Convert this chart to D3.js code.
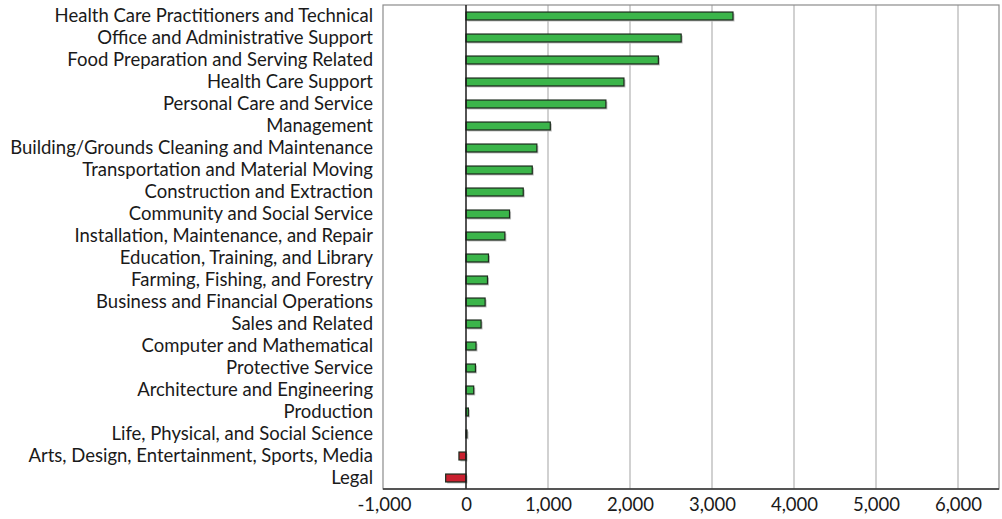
<!DOCTYPE html>
<html><head><meta charset="utf-8">
<script src="https://cdn.jsdelivr.net/npm/d3@7"></script>
<style>body{margin:0;background:#fff}svg{display:block}</style>
</head><body><svg id="c" width="1002" height="519"></svg>
<script>
const categories = ["Health Care Practitioners and Technical","Office and Administrative Support","Food Preparation and Serving Related","Health Care Support","Personal Care and Service","Management","Building/Grounds Cleaning and Maintenance","Transportation and Material Moving","Construction and Extraction","Community and Social Service","Installation, Maintenance, and Repair","Education, Training, and Library","Farming, Fishing, and Forestry","Business and Financial Operations","Sales and Related","Computer and Mathematical","Protective Service","Architecture and Engineering","Production","Life, Physical, and Social Science","Arts, Design, Entertainment, Sports, Media","Legal"];
const values = [3256,2624,2346,1926,1706,1028,864,808,698,531,474,274,262,233,184,122,115,94,29,12,-86,-248];
const tickValues = [-1000,0,1000,2000,3000,4000,5000,6000];

const svg = d3.select("#c");
const L=384, R=999, T=5, B=489;
const x = d3.scaleLinear().domain([-1000,6500]).range([L,R]);
const y = d3.scaleBand().domain(categories).range([T,B]).paddingInner(0.64).paddingOuter(0.32);
const font = "Lato, 'Open Sans', sans-serif";

// gridlines
svg.append("g").selectAll("line").data(tickValues.filter(v=>v>-1000 && v!==0)).join("line")
  .attr("x1",d=>x(d)).attr("x2",d=>x(d)).attr("y1",T).attr("y2",B)
  .attr("stroke","#b3b3b3").attr("stroke-width",1.2);
// frame
svg.append("rect").attr("x",L-1).attr("y",T).attr("width",R-L+1).attr("height",B-T)
  .attr("fill","none").attr("stroke","#8c8c8c").attr("stroke-width",1.2);

// shadows
svg.append("g").selectAll("rect").data(values).join("rect")
  .attr("x",d=>Math.min(x(0),x(d))+1.5).attr("y",(d,i)=>y(categories[i])+1.5)
  .attr("width",d=>Math.abs(x(d)-x(0))).attr("height",y.bandwidth())
  .attr("fill","#bdbdbd");
// bars
svg.append("g").selectAll("rect").data(values).join("rect")
  .attr("x",d=>Math.min(x(0),x(d))).attr("y",(d,i)=>y(categories[i]))
  .attr("width",d=>Math.abs(x(d)-x(0))).attr("height",y.bandwidth())
  .attr("fill",d=>d>=0?"#3bb54a":"#c9202f")
  .attr("stroke","#1c2a1c").attr("stroke-width",1.2);

// zero line
svg.append("line").attr("x1",x(0)).attr("x2",x(0)).attr("y1",T).attr("y2",B)
  .attr("stroke","#1a1a1a").attr("stroke-width",1.5);
// bottom axis line
svg.append("line").attr("x1",L-1).attr("x2",R).attr("y1",B).attr("y2",B)
  .attr("stroke","#333").attr("stroke-width",1.5);

// x tick labels
const xa = svg.append("g").attr("transform",`translate(0,${B})`)
  .call(d3.axisBottom(x).tickValues(tickValues).tickSize(0).tickPadding(9)
    .tickFormat(d=>d3.format(",")(d).replace("−","-")));
xa.select(".domain").remove();
xa.selectAll("text").attr("font-family",font).attr("font-size",16.5).attr("fill","#1a1a1a");

// y labels
const ya = svg.append("g").attr("transform",`translate(${L-11},0)`)
  .call(d3.axisLeft(y).tickSize(0).tickPadding(0));
ya.select(".domain").remove();
ya.selectAll("text").attr("font-family",font).attr("font-size",16.5).attr("fill","#1a1a1a");

// fit font to reference width of the widest label
const widest = ya.selectAll("text").filter(d=>d===categories[6]).node();
const w = widest.getComputedTextLength();
const fs = 16.5*363/w;
ya.selectAll("text").attr("font-size",fs);
xa.selectAll("text").attr("font-size",Math.max(fs,15.5));
</script></body></html>
